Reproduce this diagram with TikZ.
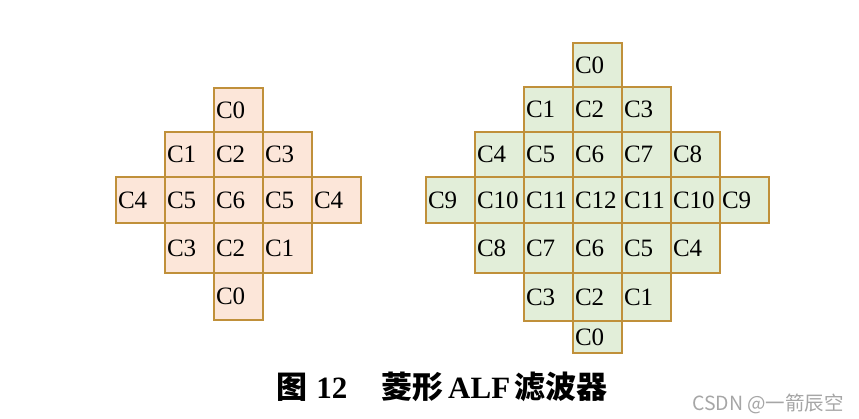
\documentclass[tikz,border=0pt]{standalone}
\usepackage{fontspec}
\usetikzlibrary{backgrounds}
\setmainfont{Liberation Serif}
\newfontfamily\cjk{Noto Sans CJK SC}

\definecolor{cellborder}{HTML}{C0903A}
\definecolor{peach}{HTML}{FCE6D9}
\definecolor{palegreen}{HTML}{E2EED9}
\definecolor{markgray}{HTML}{A6A6A6}

\newcommand*{\cellw}{49}
\newcommand*{\leftx}{116}
\newcommand*{\rightx}{426}

\begin{document}
\begin{tikzpicture}
[
	x=1pt, y=-1pt,
	cell/.style={rectangle,draw=cellborder,line width=2pt,text width=45pt,
		inner xsep=2pt,inner ysep=0pt,align=left,
		font=\fontsize{25}{25}\selectfont}
]

	\useasboundingbox (0,0) rectangle (859,419);

	% left diamond
	\foreach \yt/\yb/\c/\labs [count=\r] in {
		88/132/2/{C0},
		132/177/1/{C1,C2,C3},
		177/223/0/{C4,C5,C6,C5,C4},
		223/273/1/{C3,C2,C1},
		273/320/2/{C0}} {
		\foreach \t [count=\k from \c] in \labs {
			\node[cell,minimum height=\yb pt-\yt pt] (L\r-\k)
				at ({\leftx+(\k+0.5)*\cellw},{(\yt+\yb)/2}) {\t};
			\begin{pgfonlayer}{background}
				\fill[peach] (L\r-\k.north west) rectangle (L\r-\k.south east);
			\end{pgfonlayer}
		}
	}

	% right diamond
	\foreach \yt/\yb/\c/\labs [count=\r] in {
		43/87/3/{C0},
		87/132/2/{C1,C2,C3},
		132/177/1/{C4,C5,C6,C7,C8},
		177/223/0/{C9,C10,C11,C12,C11,C10,C9},
		223/273/1/{C8,C7,C6,C5,C4},
		273/321/2/{C3,C2,C1},
		321/353/3/{C0}} {
		\foreach \t [count=\k from \c] in \labs {
			\node[cell,minimum height=\yb pt-\yt pt] (R\r-\k)
				at ({\rightx+(\k+0.5)*\cellw},{(\yt+\yb)/2}) {\t};
			\begin{pgfonlayer}{background}
				\fill[palegreen] (R\r-\k.north west) rectangle (R\r-\k.south east);
			\end{pgfonlayer}
		}
	}

	% caption
	\node[font=\fontsize{31}{31}\selectfont\bfseries] (caption) at (442,387)
		{{\cjk 图}\hspace{0.3em}12\hspace{1.1em}{\cjk 菱形}\hspace{0.15em}ALF\hspace{0.15em}{\cjk 滤波器}};

	% watermark
	\node[font=\cjk\fontsize{19.5}{19.5}\selectfont,text=markgray] (mark) at (768,404)
		{CSDN @一箭辰空};

\end{tikzpicture}
\end{document}
